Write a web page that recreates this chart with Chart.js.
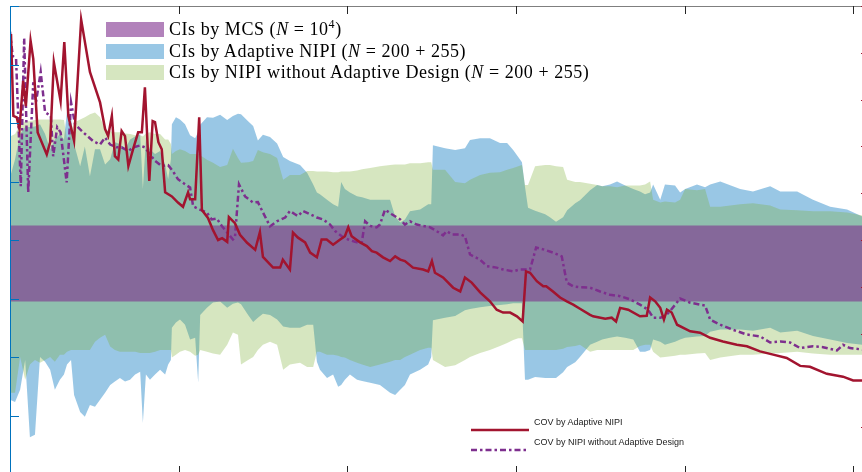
<!DOCTYPE html>
<html>
<head>
<meta charset="utf-8">
<script src="https://cdn.jsdelivr.net/npm/chart.js@4.4.0/dist/chart.umd.min.js"></script>
<style>
  html, body { margin: 0; padding: 0; background: #fff; overflow: hidden; }
  #wrap { position: relative; width: 862px; height: 472px; overflow: hidden; }
  #canvas { position: absolute; left: 0; top: 0; }
  .ci-legend { position: absolute; left: 106px; top: 22px; font-family: "Liberation Serif", "Times New Roman", serif; font-size: 18px; letter-spacing: 0.55px; color: #000; }
  .ci-row { position: absolute; left: 0; width: 620px; height: 15px; white-space: nowrap; }
  .swatch { position: absolute; left: 0; top: 0; width: 58px; height: 15px; }
  .ci-label { position: absolute; left: 63px; top: -4px; line-height: 22px; }
  .ci-label sup { font-size: 12px; line-height: 0; vertical-align: 7px; }
  .cov-legend { position: absolute; left: 471px; top: 414px; font-family: "Liberation Sans", Arial, sans-serif; font-size: 9px; color: #222; }
  .cov-row { position: absolute; left: 0; width: 300px; height: 20px; white-space: nowrap; }
  .cov-row svg { position: absolute; left: 0; top: 0; }
  .cov-label { position: absolute; left: 63px; top: 3px; line-height: 11px; }
</style>
</head>
<body>
<div id="wrap">
  <canvas id="canvas" width="880" height="480"></canvas>

  <div class="ci-legend">
    <div class="ci-row" style="top:0px">
      <div class="swatch" style="background:rgba(126,47,142,0.6)"></div>
      <div class="ci-label">CIs by MCS (<i>N</i> = 10<sup>4</sup>)</div>
    </div>
    <div class="ci-row" style="top:21.5px">
      <div class="swatch" style="background:rgba(0,114,189,0.4)"></div>
      <div class="ci-label">CIs by Adaptive NIPI (<i>N</i> = 200 + 255)</div>
    </div>
    <div class="ci-row" style="top:43px">
      <div class="swatch" style="background:rgba(119,172,48,0.3)"></div>
      <div class="ci-label">CIs by NIPI without Adaptive Design (<i>N</i> = 200 + 255)</div>
    </div>
  </div>

  <div class="cov-legend">
    <div class="cov-row" style="top:0px">
      <svg width="60" height="20"><line x1="0" y1="16" x2="58" y2="16" stroke="#a2142f" stroke-width="2.5"/></svg>
      <div class="cov-label">COV by Adaptive NIPI</div>
    </div>
    <div class="cov-row" style="top:20px">
      <svg width="60" height="20"><line x1="0" y1="16" x2="58" y2="16" stroke="#7e2f8e" stroke-width="2.5" stroke-dasharray="6 3 2.5 3"/></svg>
      <div class="cov-label">COV by NIPI without Adaptive Design</div>
    </div>
  </div>
</div>

<script>
// x: iteration index, left axis: CI bounds, right axis: COV
const xTicks = [0, 50, 100, 150, 200, 250]
const leftTicks = [0, 1, 2, 3, 4, 5, 6, 7, 8]
const rightTicks = [0, 1, 2, 3, 4, 5, 6, 7, 8, 9, 10]

const mcsUpper = 4.25
const mcsLower = 2.95

const bandX = [0, 1.5, 3.0, 4.5, 5.9, 7.4, 8.9, 10.4, 11.9, 13.3,
  14.8, 16.0, 16.9, 18.1, 19.0, 20.8, 22.2, 23.7, 25.2, 26.7,
  28.2, 29.7, 31.1, 32.6, 34.1, 35.6, 37.1, 38.6, 39.4, 40.3,
  41.5, 43.0, 44.5, 46.0, 46.9, 47.7, 48.0, 49.2, 50.4, 51.9,
  53.4, 54.9, 55.8, 56.4, 58.4, 60.2, 62.3, 64.4, 66.1, 67.6,
  68.5, 70.6, 72.1, 73.5, 75.0, 77.1, 79.2, 81.0, 83.0, 86.0,
  88.1, 89.9, 91.0, 91.9, 94.0, 95.8, 97.3, 98.2, 99.3, 100.8,
  102.9, 104.4, 106.8, 109.7, 112.7, 114.2, 115.7, 117.1, 118.6, 121.6,
  124.0, 124.9, 125.4, 129.0, 132.0, 134.9, 136.4, 139.4, 142.3, 145.3,
  147.4, 149.2, 150.7, 151.8, 152.7, 153.6, 155.7, 158.7, 160.1, 161.9,
  164.0, 165.2, 167.6, 169.0, 172.0, 174.1, 175.6, 177.9, 180.0, 182.4,
  184.8, 186.8, 188.3, 189.8, 190.7, 192.8, 194.2, 197.2, 198.7, 200.2,
  203.7, 206.1, 207.6, 210.6, 216.5, 220.3, 225.4, 228.4, 233.4, 238.1,
  243.2, 248.2, 252.7, 255]

const blueUpper = [5.07, 5.38, 5.81, 5.93, 5.93, 5.94, 5.98, 5.81, 5.55, 5.72,
  5.81, 5.72, 6.20, 6.10, 5.64, 5.26, 5.60, 5.09, 5.55, 5.55,
  5.29, 5.38, 5.67, 5.64, 5.55, 5.72, 5.77, 5.81, 4.87, 5.72,
  5.55, 5.47, 5.52, 5.29, 5.04, 5.38, 5.98, 6.10, 6.06, 5.98,
  5.79, 5.74, 5.85, 5.97, 6.10, 6.09, 6.14, 6.05, 6.12, 6.16,
  6.15, 6.03, 5.95, 5.70, 5.80, 5.76, 5.65, 5.42, 5.35, 5.28,
  5.15, 4.95, 4.81, 4.78, 4.69, 4.61, 4.57, 4.99, 4.87, 4.81,
  4.75, 4.73, 4.69, 4.69, 4.69, 4.40, 4.30, 4.35, 4.49, 4.52,
  4.61, 4.61, 5.62, 5.57, 5.54, 5.57, 5.71, 5.74, 5.74, 5.66,
  5.66, 5.54, 5.42, 5.33, 4.91, 4.55, 4.50, 4.44, 4.39, 4.31,
  4.39, 4.51, 4.63, 4.68, 4.85, 4.94, 4.92, 4.95, 5.00, 4.93,
  4.87, 4.83, 4.78, 4.81, 4.95, 4.69, 4.95, 4.93, 4.81, 4.87,
  4.95, 4.90, 4.95, 5.00, 4.87, 4.83, 4.92, 4.83, 4.83, 4.69,
  4.57, 4.52, 4.40, 4.37]

const blueLower = [1.27, 1.23, 1.44, 1.95, 0.63, 0.67, 2.00, 1.92, 1.78, 1.44,
  1.61, 1.70, 1.87, 1.95, 1.35, 1.06, 0.98, 1.18, 1.15, 1.27,
  1.39, 1.52, 1.58, 1.64, 1.58, 1.61, 1.70, 1.75, 0.87, 1.70,
  1.61, 1.70, 1.78, 1.70, 1.87, 1.95, 2.50, 2.59, 2.64, 2.55,
  2.30, 2.33, 1.56, 2.72, 2.84, 2.93, 2.95, 2.84, 2.91, 2.93,
  2.90, 2.72, 2.60, 2.67, 2.74, 2.72, 2.64, 2.52, 2.50, 2.50,
  2.55, 2.55, 1.92, 1.78, 1.64, 1.70, 1.49, 1.52, 1.61, 1.70,
  1.61, 1.59, 1.56, 1.52, 1.39, 1.35, 1.44, 1.52, 1.70, 1.78,
  1.87, 2.00, 2.63, 2.67, 2.70, 2.80, 2.82, 2.85, 2.87, 2.89,
  2.90, 2.92, 2.92, 2.92, 1.61, 1.61, 1.66, 1.64, 1.64, 1.64,
  1.74, 1.83, 1.91, 2.00, 2.21, 2.26, 2.30, 2.33, 2.35, 2.33,
  2.30, 2.09, 2.09, 2.12, 2.30, 2.26, 2.21, 2.26, 2.30, 2.33,
  2.35, 2.36, 2.43, 2.47, 2.47, 2.45, 2.50, 2.42, 2.45, 2.36,
  2.30, 2.24, 2.21, 2.19]

const greenUpper = [5.77, 5.81, 5.98, 6.03, 6.03, 6.05, 6.06, 6.06, 6.06, 6.06,
  6.06, 6.05, 5.72, 5.86, 6.01, 6.06, 6.10, 6.15, 6.18, 6.10,
  5.89, 5.86, 5.84, 5.84, 5.82, 5.81, 5.79, 5.79, 5.77, 5.82,
  5.84, 5.81, 5.81, 5.72, 5.72, 5.64, 5.47, 5.52, 5.55, 5.52,
  5.47, 5.47, 5.47, 5.45, 5.37, 5.32, 5.25, 5.28, 5.56, 5.40,
  5.32, 5.33, 5.35, 5.54, 5.50, 5.47, 5.40, 5.03, 5.11, 5.11,
  5.18, 5.18, 5.17, 5.17, 5.17, 5.16, 5.16, 5.17, 5.17, 5.17,
  5.19, 5.21, 5.23, 5.26, 5.28, 5.29, 5.29, 5.29, 5.31, 5.31,
  5.33, 5.33, 5.20, 5.20, 4.99, 4.97, 5.03, 5.11, 5.15, 5.16,
  5.20, 5.23, 5.26, 5.28, 4.94, 4.94, 5.26, 5.28, 5.28, 5.26,
  5.25, 5.03, 4.99, 4.99, 4.96, 4.94, 4.92, 4.92, 4.90, 4.93,
  4.93, 4.93, 4.95, 5.00, 4.69, 4.64, 4.66, 4.64, 4.69, 4.87,
  4.85, 4.87, 4.57, 4.57, 4.61, 4.63, 4.59, 4.52, 4.51, 4.49,
  4.49, 4.47, 4.42, 4.40]

const greenLower = [1.39, 1.39, 2.00, 1.61, 1.87, 1.95, 1.90, 1.95, 2.00, 1.92,
  2.04, 2.04, 2.09, 2.12, 2.12, 2.12, 2.12, 2.12, 2.26, 2.33,
  2.38, 2.18, 2.12, 2.09, 2.09, 2.09, 2.09, 2.07, 2.07, 2.07,
  2.07, 2.09, 2.12, 2.12, 2.12, 2.12, 1.99, 2.04, 2.09, 2.12,
  2.09, 2.02, 2.04, 2.12, 2.09, 2.06, 2.04, 2.21, 2.42, 2.38,
  1.87, 1.95, 2.00, 2.12, 2.21, 2.26, 2.21, 1.78, 1.87, 1.90,
  1.83, 1.83, 2.09, 2.09, 2.04, 2.04, 2.02, 2.00, 1.99, 1.95,
  1.90, 1.87, 1.83, 1.87, 1.92, 1.95, 1.95, 2.00, 2.04, 2.12,
  2.16, 2.16, 1.95, 1.83, 1.86, 1.95, 2.00, 2.07, 2.12, 2.19,
  2.24, 2.29, 2.32, 2.32, 2.12, 2.12, 2.12, 2.12, 2.12, 2.12,
  2.14, 2.17, 2.19, 2.21, 2.09, 2.12, 2.12, 2.12, 2.12, 2.12,
  2.12, 2.19, 2.21, 2.21, 2.09, 1.99, 2.00, 2.02, 2.04, 2.04,
  2.06, 2.07, 1.95, 1.99, 2.04, 2.04, 2.06, 2.07, 2.09, 2.06,
  2.04, 2.04, 2.04, 2.04]

const redX = [0.3, 1.0, 2.0, 2.8, 3.9, 4.7, 6.1, 6.9, 8.2, 10.9,
  11.9, 13.0, 15.0, 16.1, 17.3, 19.0, 21.1, 23.7, 26.7, 28.2,
  29.1, 30.2, 31.1, 32.1, 33.1, 34.1, 35.1, 36.5, 38.0, 39.1,
  40.0, 41.3, 42.3, 43.0, 44.0, 45.0, 46.0, 48.0, 49.8, 51.3,
  52.8, 53.4, 54.9, 56.1, 56.9, 58.7, 60.2, 61.7, 62.9, 64.4,
  64.9, 66.7, 68.2, 70.3, 72.7, 74.1, 75.0, 78.0, 80.1,
  80.9, 83.0, 83.9, 85.4, 87.5, 89.0, 91.0, 92.4, 93.9, 95.8,
  97.9, 99.3, 100.3, 101.3, 103.8, 105.8, 107.3, 108.7, 110.6, 112.7,
  114.2, 115.7, 117.1, 119.5, 122.5, 124.0, 125.1, 126.0, 128.4, 131.4,
  133.5, 134.9, 136.9, 139.4, 142.3, 144.3, 146.2, 148.3, 150.3, 152.0,
  153.0, 154.2, 156.2, 158.1, 159.0, 161.0, 163.1, 165.1, 167.0, 169.0,
  172.0, 172.9, 176.5, 178.4, 179.7, 180.9, 183.3, 186.8, 188.8, 189.8,
  191.3, 192.8, 193.9, 194.8, 196.2, 197.8, 201.7, 204.6, 207.6, 211.4,
  215.5, 218.5, 222.4, 226.3, 230.3, 234.3, 237.2, 242.2, 247.0, 250.0,
  252.7, 255]

const redCov = [9.40, 7.65, 7.62, 7.37, 8.40, 7.86, 9.26, 8.87, 7.30, 6.83,
  7.09, 8.80, 7.97, 9.23, 7.65, 7.12, 9.71, 8.59, 7.94, 7.37,
  7.22, 7.65, 6.79, 6.72, 7.33, 7.22, 6.58, 6.94, 7.30, 7.30,
  8.26, 6.26, 7.54, 7.52, 7.09, 6.94, 6.02, 5.93, 5.80, 5.71,
  6.02, 5.87, 5.87, 7.62, 5.64, 5.47, 5.21, 5.00, 5.04, 4.96,
  5.49, 5.36, 5.11, 4.94, 4.79, 5.17, 4.64, 4.41, 4.41,
  4.58, 4.37, 5.16, 5.05, 4.95, 4.73, 4.63, 5.01, 5.01, 4.90,
  5.01, 5.08, 5.27, 5.08, 4.95, 4.87, 4.76, 4.73, 4.63, 4.55,
  4.65, 4.58, 4.55, 4.41, 4.37, 4.33, 4.55, 4.30, 4.20, 3.98,
  3.90, 4.20, 4.09, 3.88, 3.69, 3.51, 3.45, 3.45, 3.37, 3.26,
  4.33, 4.30, 4.12, 4.01, 4.01, 3.90, 3.77, 3.69, 3.62, 3.53,
  3.40, 3.37, 3.32, 3.34, 3.26, 3.55, 3.51, 3.37, 3.38, 3.77,
  3.69, 3.55, 3.30, 3.51, 3.45, 3.19, 3.05, 3.02, 2.91, 2.83,
  2.76, 2.73, 2.62, 2.55, 2.48, 2.31, 2.29, 2.14, 2.08, 2.00,
  2.00, 1.95]

const purpleX = [0, 0.8, 1.8, 3.2, 4.2, 5.4, 6.9, 7.7, 9.1, 10.4,
  12.1, 12.8, 14.0, 15.0, 16.8, 18.1, 19.3, 21.7, 24.7, 26.7,
  28.2, 29.7, 31.6, 33.1, 35.1, 36.5, 38.6, 40.0, 41.5, 43.0,
  45.0, 46.9, 48.3, 49.8, 51.9, 53.4, 54.3, 56.3, 58.3, 59.8,
  61.3, 62.8, 64.4, 66.1, 66.7, 67.9, 69.7, 72.1, 73.5, 75.0,
  77.1, 79.1, 81.6, 83.0, 84.5, 85.4, 86.9, 89.0, 91.0, 92.8,
  94.9, 96.4, 98.4, 100.3, 102.8, 104.3, 105.3, 106.8, 108.7, 109.7,
  111.2, 113.2, 115.7, 117.1, 118.6, 120.6, 122.5, 124.6, 126.5, 128.4,
  129.5, 131.0, 133.5, 134.9, 136.4, 139.4, 141.4, 144.3, 146.2, 149.2,
  151.2, 154.2, 156.0, 158.1, 161.0, 163.6, 165.1, 167.0, 169.0, 172.0,
  175.0, 177.9, 180.9, 183.9, 186.8, 189.2, 190.7, 192.8, 194.2, 195.7,
  198.7, 201.7, 206.1, 207.6, 210.6, 214.4, 218.5, 222.4, 225.4, 228.4,
  231.3, 234.3, 238.1, 241.1, 245.2, 247.0, 249.1, 252.7, 255]

const purpleCov = [9.45, 8.93, 8.87, 6.15, 9.31, 6.02, 8.37, 7.94, 8.59, 7.73,
  7.65, 6.79, 7.41, 7.30, 6.23, 7.94, 7.47, 7.30, 7.11, 7.04,
  7.19, 7.04, 6.98, 6.98, 6.90, 6.98, 7.02, 6.98, 6.83, 6.69,
  6.58, 6.60, 6.47, 6.30, 6.19, 6.12, 5.72, 5.65, 5.59, 5.44,
  5.46, 5.30, 5.16, 5.01, 5.05, 6.19, 5.93, 5.80, 5.81, 5.59,
  5.29, 5.40, 5.48, 5.62, 5.55, 5.51, 5.62, 5.55, 5.48, 5.44,
  5.33, 5.19, 5.08, 5.01, 4.95, 4.95, 5.40, 5.30, 5.27, 5.33,
  5.65, 5.55, 5.44, 5.33, 5.40, 5.33, 5.30, 5.27, 5.19, 5.10,
  5.19, 5.12, 5.12, 5.08, 4.69, 4.58, 4.44, 4.41, 4.37, 4.33,
  4.37, 4.37, 4.84, 4.80, 4.73, 4.65, 4.09, 4.01, 3.99, 3.98,
  3.90, 3.83, 3.80, 3.73, 3.62, 3.51, 3.34, 3.34, 3.37, 3.48,
  3.75, 3.66, 3.60, 3.30, 3.19, 3.08, 2.98, 2.94, 2.81, 2.83,
  2.81, 2.69, 2.73, 2.71, 2.64, 2.76, 2.69, 2.66, 2.61]

const toPoints = (xs, ys) => xs.map((x, k) => ({ x: x, y: ys[k] }))
const flat = (v) => [{ x: 0, y: v }, { x: 255, y: v }]

const bandStyle = (color, fill) => ({
  yAxisID: 'y',
  borderWidth: 0,
  borderColor: 'transparent',
  backgroundColor: color,
  fill: fill,
  pointRadius: 0
})

// MATLAB-like box: inward ticks, coloured y axes
const boxAxes = {
  id: 'boxAxes',
  afterDatasetsDraw(chart) {
    const { ctx, chartArea: a, scales } = chart
    ctx.save()
    ctx.lineWidth = 1

    ctx.strokeStyle = '#7f7f7f'
    ctx.beginPath()
    ctx.moveTo(a.left, a.top + 0.5)
    ctx.lineTo(a.right, a.top + 0.5)
    ctx.moveTo(a.left, a.bottom - 0.5)
    ctx.lineTo(a.right, a.bottom - 0.5)
    ctx.stroke()

    ctx.strokeStyle = '#262626'
    ctx.beginPath()
    xTicks.forEach(v => {
      const x = Math.round(scales.x.getPixelForValue(v)) + 0.5
      ctx.moveTo(x, a.top)
      ctx.lineTo(x, a.top + 8)
      ctx.moveTo(x, a.bottom)
      ctx.lineTo(x, a.bottom - 8)
    })
    ctx.stroke()

    ctx.strokeStyle = 'rgb(0,114,189)'
    ctx.beginPath()
    ctx.moveTo(a.left + 0.5, a.top)
    ctx.lineTo(a.left + 0.5, a.bottom)
    leftTicks.forEach(v => {
      const y = Math.round(scales.y.getPixelForValue(v)) + 0.5
      ctx.moveTo(a.left, y)
      ctx.lineTo(a.left + 9, y)
    })
    ctx.stroke()

    ctx.strokeStyle = 'rgb(162,20,47)'
    ctx.beginPath()
    ctx.moveTo(a.right - 0.5, a.top)
    ctx.lineTo(a.right - 0.5, a.bottom)
    rightTicks.forEach(v => {
      const y = Math.round(scales.y1.getPixelForValue(v)) + 0.5
      ctx.moveTo(a.right, y)
      ctx.lineTo(a.right - 9, y)
    })
    ctx.stroke()
    ctx.restore()
  }
}

const ctx = document.getElementById('canvas').getContext('2d')

const chart = new Chart(ctx, {
  type: 'line',
  data: {
    datasets: [
      Object.assign({ label: 'CIs by MCS', data: flat(mcsUpper) }, bandStyle('rgba(126,47,142,0.6)', '+1')),
      Object.assign({ label: 'MCS lower', data: flat(mcsLower) }, bandStyle('transparent', false)),
      Object.assign({ label: 'CIs by NIPI without Adaptive Design', data: toPoints(bandX, greenUpper) }, bandStyle('rgba(119,172,48,0.3)', '+1')),
      Object.assign({ label: 'NIPI lower', data: toPoints(bandX, greenLower) }, bandStyle('transparent', false)),
      Object.assign({ label: 'CIs by Adaptive NIPI', data: toPoints(bandX, blueUpper) }, bandStyle('rgba(0,114,189,0.4)', '+1')),
      Object.assign({ label: 'Adaptive lower', data: toPoints(bandX, blueLower) }, bandStyle('transparent', false)),
      {
        label: 'COV by Adaptive NIPI',
        data: toPoints(redX, redCov),
        yAxisID: 'y1',
        borderColor: 'rgb(162,20,47)',
        borderWidth: 2.5,
        fill: false,
        pointRadius: 0
      },
      {
        label: 'COV by NIPI without Adaptive Design',
        data: toPoints(purpleX, purpleCov),
        yAxisID: 'y1',
        borderColor: 'rgb(126,47,142)',
        borderWidth: 2.5,
        borderDash: [6, 3, 2.5, 3],
        fill: false,
        pointRadius: 0
      }
    ]
  },
  options: {
    responsive: false,
    animation: false,
    layout: { padding: { left: 10, top: 6, right: 10, bottom: 6 } },
    elements: { line: { tension: 0 } },
    plugins: {
      legend: { display: false },
      tooltip: { enabled: false },
      filler: { drawTime: 'beforeDatasetsDraw' }
    },
    scales: {
      x: { type: 'linear', min: 0, max: 255, display: false },
      y: { type: 'linear', min: 0, max: 8, display: false },
      y1: { type: 'linear', min: 0, max: 10, display: false, position: 'right' }
    }
  },
  plugins: [boxAxes]
})
</script>
</body>
</html>
